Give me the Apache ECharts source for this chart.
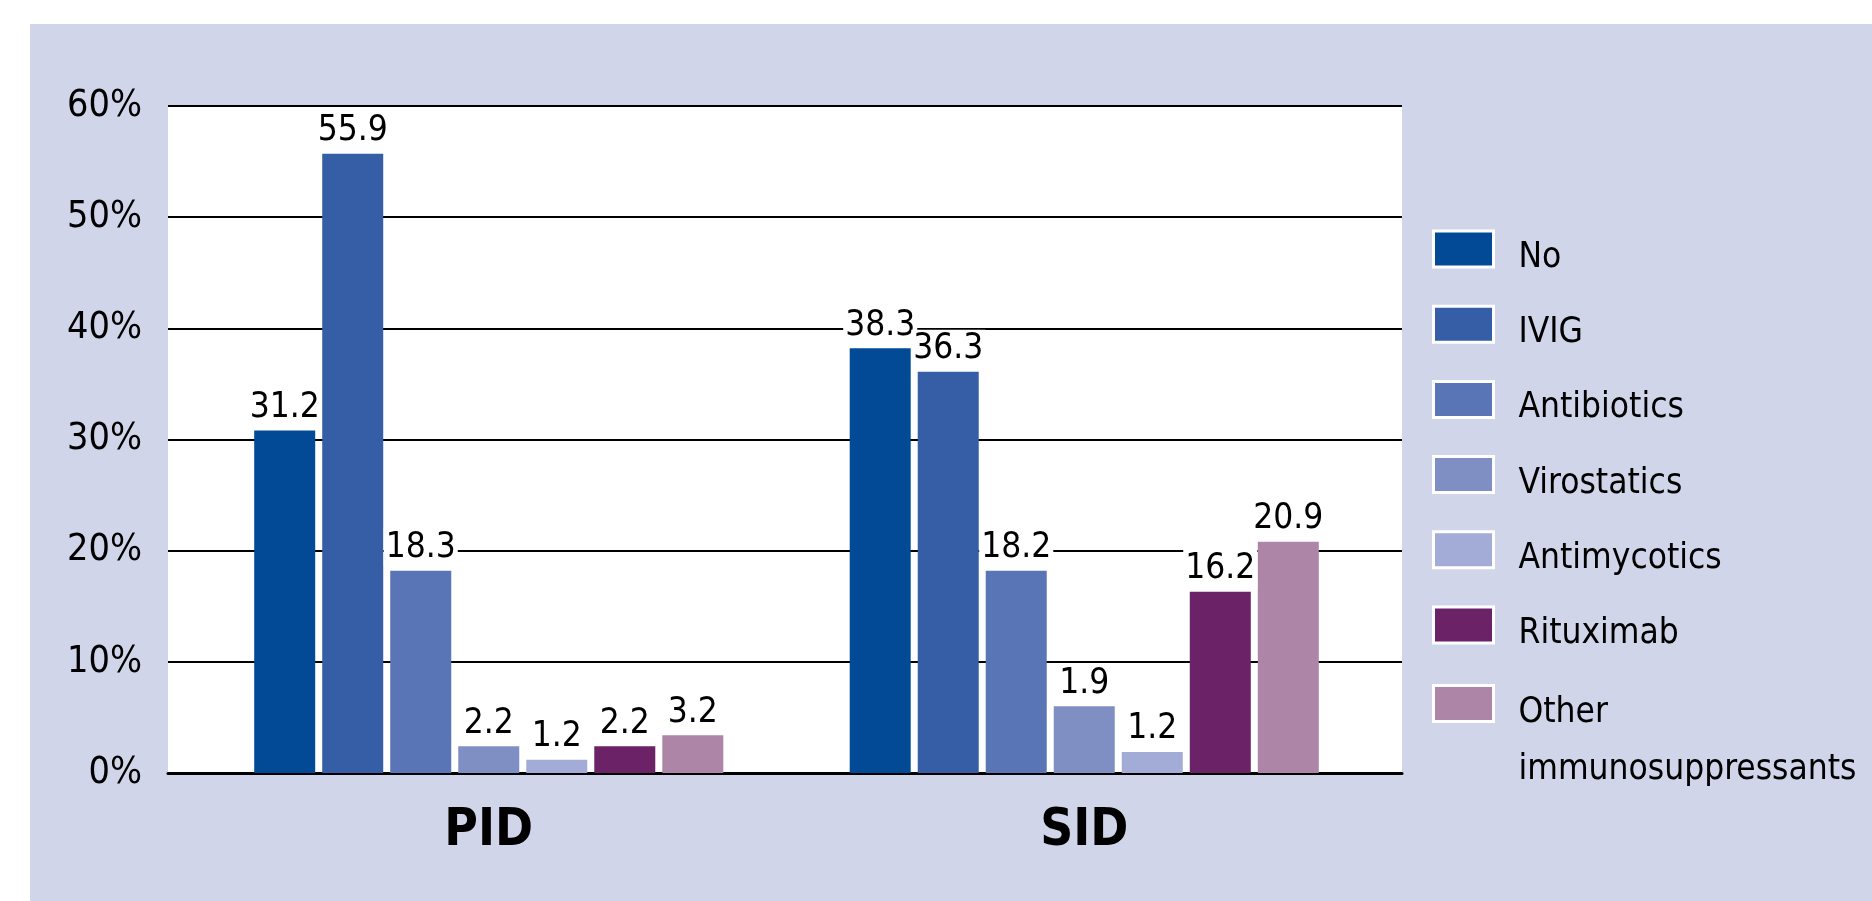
<!DOCTYPE html>
<html>
<head>
<meta charset="utf-8">
<title>PID / SID therapy</title>
<script src="https://cdn.jsdelivr.net/npm/echarts@6/dist/echarts.min.js"></script>
<style>
  html, body { margin: 0; padding: 0; background: #fff; }
  #chart { width: 1872px; height: 901px; }
</style>
</head>
<body>
<div id="chart"></div>
<script>
  // groups on the x axis
  const groups = ['PID', 'SID'];
  const seriesNames = ['No', 'IVIG', 'Antibiotics', 'Virostatics', 'Antimycotics', 'Rituximab', 'Other immunosuppressants'];

  // bar heights (%) as drawn, [PID, SID]
  const noValues = [30.8, 38.2];
  const ivigValues = [55.7, 36.1];
  const antibioticsValues = [18.2, 18.2];
  const virostaticsValues = [2.4, 6.0];
  const antimycoticsValues = [1.2, 1.9];
  const rituximabValues = [2.4, 16.3];
  const otherValues = [3.4, 20.8];

  // numbers printed above the bars
  const noLabels = ['31.2', '38.3'];
  const ivigLabels = ['55.9', '36.3'];
  const antibioticsLabels = ['18.3', '18.2'];
  const virostaticsLabels = ['2.2', '1.9'];
  const antimycoticsLabels = ['1.2', '1.2'];
  const rituximabLabels = ['2.2', '16.2'];
  const otherLabels = ['3.2', '20.9'];

  // y axis ticks (%)
  const yTicks = [0, 10, 20, 30, 40, 50, 60];

  const colors = ['#024A96', '#365EA6', '#5A75B5', '#7F8FC3', '#A3ABD7', '#6B2266', '#AD86A7'];
  const font = "'DejaVu Sans Condensed', 'Liberation Sans Narrow', 'Liberation Sans', sans-serif";

  const allValues = [noValues, ivigValues, antibioticsValues, virostaticsValues, antimycoticsValues, rituximabValues, otherValues];
  const allLabels = [noLabels, ivigLabels, antibioticsLabels, virostaticsLabels, antimycoticsLabels, rituximabLabels, otherLabels];

  let chart = echarts.init(document.getElementById('chart'));

  let series = seriesNames.map(function (name, i) {
    return {
      name: name,
      type: 'bar',
      xAxisIndex: 1,
      yAxisIndex: 1,
      data: allValues[i],
      barWidth: 61,
      barGap: '11.5%',
      itemStyle: { color: colors[i] },
      label: {
        show: true,
        position: 'top',
        distance: 5,
        fontFamily: font,
        fontSize: 35,
        color: '#000',
        backgroundColor: '#fff',
        padding: [2, 2, 0, 2],
        formatter: function (p) { return allLabels[i][p.dataIndex]; }
      }
    };
  });

  let legendText = { fontFamily: font, fontSize: 35, color: '#000' };

  chart.setOption({
    animation: false,
    color: colors,
    graphic: [{
      type: 'rect',
      z: -100,
      left: 30,
      top: 24,
      shape: { width: 1842, height: 877 },
      style: { fill: '#D0D5EA' }
    }],
    grid: [
      // white plot area with the gridlines
      { left: 168, right: 470, top: 106, bottom: 128, show: true, backgroundColor: '#fff', borderWidth: 0 },
      // bars
      { left: 191, right: 490, top: 106, bottom: 128 }
    ],
    legend: [{
      orient: 'vertical',
      left: 1432,
      top: 203,
      padding: 0,
      icon: 'rect',
      itemWidth: 60,
      itemHeight: 36,
      itemGap: 2.7,
      itemStyle: { borderColor: '#fff', borderWidth: 3 },
      formatter: function (name) { return '{s|}\n{t|' + name + '}'; },
      textStyle: {
        fontFamily: font, fontSize: 35, color: '#000', padding: [0, 0, 0, 20],
        rich: { s: { height: 18, lineHeight: 18 }, t: Object.assign({ lineHeight: 57 }, legendText) }
      },
      data: seriesNames.slice(0, 6)
    }, {
      orient: 'vertical',
      left: 1432,
      top: 609,
      padding: 0,
      icon: 'rect',
      itemWidth: 60,
      itemHeight: 36,
      itemStyle: { borderColor: '#fff', borderWidth: 3 },
      formatter: function () { return '{s|}\n{t|Other}\n{t|immunosuppressants}'; },
      textStyle: {
        fontFamily: font, fontSize: 35, color: '#000', padding: [0, 0, 0, 20],
        rich: { s: { height: 75, lineHeight: 75 }, t: Object.assign({ lineHeight: 57 }, legendText) }
      },
      data: seriesNames.slice(6)
    }],
    xAxis: [{
      gridIndex: 0,
      type: 'category',
      data: groups,
      axisLine: { lineStyle: { color: '#000', width: 3 } },
      axisTick: { show: false },
      axisLabel: { show: false }
    }, {
      gridIndex: 1,
      type: 'category',
      data: groups,
      axisLine: { show: false },
      axisTick: { show: false },
      axisLabel: {
        fontFamily: font,
        fontSize: 51,
        fontWeight: 'bold',
        color: '#000',
        margin: 33
      }
    }],
    yAxis: [{
      gridIndex: 0,
      type: 'value',
      min: yTicks[0],
      max: yTicks[yTicks.length - 1],
      interval: yTicks[1] - yTicks[0],
      axisLine: { show: false },
      axisTick: { show: false },
      splitLine: { lineStyle: { color: '#000', width: 2 } },
      axisLabel: {
        formatter: '{value}%',
        fontFamily: font,
        fontSize: 37.5,
        color: '#000',
        margin: 26
      }
    }, {
      gridIndex: 1,
      type: 'value',
      min: yTicks[0],
      max: yTicks[yTicks.length - 1],
      show: false
    }],
    series: series
  });
</script>
</body>
</html>
